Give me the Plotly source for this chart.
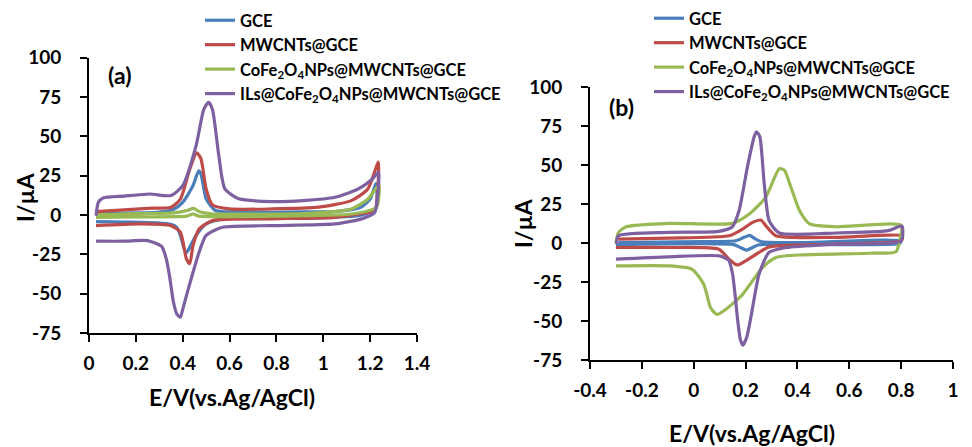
import plotly.graph_objects as go

# ---------------- data: panel (a) ----------------
a_gce_E = [0.03, 0.15, 0.29, 0.36, 0.40, 0.444, 0.468, 0.478, 0.50, 0.54, 0.65, 0.78, 0.92, 1.05, 1.16, 1.20, 1.225,
           1.227, 1.20, 1.15, 0.92, 0.70, 0.57, 0.50, 0.457, 0.435, 0.423, 0.415, 0.405, 0.39, 0.375, 0.35, 0.29,
           0.15, 0.03]
a_gce_I = [0.6, 1.2, 1.7, 3.5, 8, 18.6, 28, 26, 10.2, 2.8, 1.9, 1.7, 1.9, 2.1, 4.9, 10, 20,
           5, 1.8, -0.4, -2.1, -2.3, -2.5, -5.7, -13, -19, -22.5, -24, -21, -13, -8, -6, -5,
           -4.5, -4.2]

a_mw_E = [0.03, 0.15, 0.25, 0.35, 0.39, 0.43, 0.46, 0.478, 0.50, 0.527, 0.60, 0.78, 0.98, 1.12, 1.19, 1.235,
          1.232, 1.22, 1.15, 1.05, 0.78, 0.527, 0.47, 0.444, 0.43, 0.416, 0.39, 0.35, 0.22, 0.03]
a_mw_I = [2.1, 3.2, 4.2, 4.9, 10, 29, 39.5, 35.6, 16.5, 6.4, 3.8, 3.8, 4.9, 9.1, 16.5, 33.5,
          15, 2.8, 0.6, -1.5, -2.5, -3.6, -8.9, -19.5, -31, -28, -11, -6.8, -5.7, -6.8]

a_co_E = [0.03, 0.20, 0.36, 0.42, 0.446, 0.47, 0.527, 0.70, 0.915, 1.12, 1.19, 1.237,
          1.227, 1.12, 0.78, 0.47, 0.444, 0.416, 0.20, 0.03]
a_co_I = [0, 0.8, 1.3, 2.8, 4.2, 2.1, 0.6, 0.6, 0.8, 3.8, 10, 19,
          4.9, 0.6, -0.8, -0.8, 0.6, -0.8, -1.2, -1.5]

a_il_E = [0.03, 0.04, 0.06, 0.15, 0.26, 0.35, 0.40, 0.457, 0.49, 0.51, 0.527, 0.554, 0.58, 0.64, 0.78, 0.915,
          1.05, 1.15, 1.21, 1.236, 1.232, 1.22, 1.164, 1.05, 0.78, 0.57, 0.50, 0.47, 0.42, 0.40, 0.39, 0.375,
          0.36, 0.345, 0.33, 0.31, 0.25, 0.15, 0.03]
a_il_I = [-0.5, 8, 10.8, 12, 13.3, 12.3, 18.6, 44, 67, 71.5, 67, 37.7, 16.5, 10.2, 8.5, 9.1,
          11.2, 16.5, 22.9, 27.1, 12, 1.7, -2.5, -5.7, -6.8, -7.8, -13, -23.7, -49, -60, -65, -63,
          -55, -40, -28, -20, -16.3, -16.7, -16.7]

# ---------------- data: panel (b) ----------------
b_gce_E = [-0.29, 0.03, 0.162, 0.194, 0.216, 0.233, 0.259, 0.42, 0.80,
           0.795, 0.42, 0.252, 0.227, 0.203, 0.18, 0.155, -0.30]
b_gce_I = [0.4, 1, 1.5, 3.7, 5.0, 3.2, 1, 0.4, 1.5,
           -0.2, -0.6, -1, -2.8, -4.5, -2.8, -1, -1]

b_mw_E = [-0.29, -0.097, 0.136, 0.188, 0.227, 0.259, 0.278, 0.317, 0.55, 0.805,
          0.80, 0.55, 0.291, 0.252, 0.20, 0.168, 0.136, 0.097, -0.097, -0.30]
b_mw_I = [2.6, 3.2, 4.7, 9, 13.3, 14.8, 11.2, 4.7, 3.7, 4.7,
          1.5, -0.6, -2.4, -6, -11.4, -14, -10.3, -3.9, -2.8, -2.8]

b_co_E = [-0.30, -0.29, -0.26, -0.097, 0.149, 0.214, 0.278, 0.33, 0.35, 0.375, 0.408, 0.447, 0.55, 0.80,
          0.795, 0.78, 0.68, 0.42, 0.317, 0.265, 0.188, 0.123, 0.09, 0.065, 0.039, -0.006, -0.097, -0.30]
b_co_I = [0, 6.9, 10.5, 12.7, 12.7, 18.7, 29.5, 47.7, 46.7, 35.9, 20.9, 12.3, 10.5, 11.4,
          2, -5.5, -6.5, -7.5, -9.2, -15.7, -33, -42.6, -45.8, -41.5, -26.5, -16.8, -14.6, -14.6]

b_il_E = [-0.298, -0.29, -0.097, 0.097, 0.149, 0.175, 0.207, 0.233, 0.242, 0.255, 0.272, 0.291, 0.33, 0.55,
          0.75, 0.803, 0.80, 0.55, 0.356, 0.29, 0.252, 0.22, 0.205, 0.19, 0.18, 0.17, 0.16, 0.15, 0.135,
          0.10, -0.097, -0.30]
b_il_I = [-0.6, 4.7, 6.9, 7.5, 10.5, 20.9, 48.8, 68.2, 71.4, 68.2, 38, 14.4, 6.5, 6.5,
          8, 11, 1.5, -0.6, -2.8, -6, -20, -48, -60, -65.5, -62, -50, -34, -20, -11,
          -8.2, -8.8, -10.3]

series_names = ["GCE", "MWCNTs@GCE", "CoFe<sub>2</sub>O<sub>4</sub>NPs@MWCNTs@GCE",
                "ILs@CoFe<sub>2</sub>O<sub>4</sub>NPs@MWCNTs@GCE"]
series_colors = ["#4A7EBB", "#BE4B48", "#98B954", "#7D60A0"]

a_x_ticks = [0, 0.2, 0.4, 0.6, 0.8, 1.0, 1.2, 1.4]
a_x_text = ["0", "0.2", "0.4", "0.6", "0.8", "1", "1.2", "1.4"]
b_x_ticks = [-0.4, -0.2, 0, 0.2, 0.4, 0.6, 0.8, 1.0]
b_x_text = ["-0.4", "-0.2", "0", "0.2", "0.4", "0.6", "0.8", "1"]
y_ticks = [-75, -50, -25, 0, 25, 50, 75, 100]
y_text = ["-75", "-50", "-25", "0", "25", "50", "75", "100"]

FONT = "Lato"
W, H = 972, 447

fig = go.Figure()
a_data = [(a_gce_E, a_gce_I), (a_mw_E, a_mw_I), (a_co_E, a_co_I), (a_il_E, a_il_I)]
b_data = [(b_gce_E, b_gce_I), (b_mw_E, b_mw_I), (b_co_E, b_co_I), (b_il_E, b_il_I)]

for (ex, iy), name, col in zip(a_data, series_names, series_colors):
    fig.add_trace(go.Scatter(x=ex, y=iy, mode="lines", name=name, xaxis="x", yaxis="y",
                             line=dict(color=col, width=3.2, shape="spline", smoothing=0.6),
                             legend="legend"))
for (ex, iy), name, col in zip(b_data, series_names, series_colors):
    fig.add_trace(go.Scatter(x=ex, y=iy, mode="lines", name=name, xaxis="x2", yaxis="y2",
                             line=dict(color=col, width=3.2, shape="spline", smoothing=0.6),
                             legend="legend2"))

def px_x(p):
    return p / W

def px_y(p):
    return 1 - p / H

tickfont = dict(family=FONT, size=19, color="black", weight="bold")
axis_common = dict(showgrid=False, zeroline=False, showline=True, linecolor="black", linewidth=2,
                   ticks="outside", ticklen=7, tickwidth=2, tickcolor="black", tickfont=tickfont,
                   automargin=False)

legend_font = dict(family=FONT, size=16.5, color="black", weight="bold")
fig.update_layout(
    width=W, height=H, margin=dict(l=0, r=0, t=0, b=0, autoexpand=False),
    paper_bgcolor="white", plot_bgcolor="white",
    xaxis=dict(domain=[px_x(89), px_x(417)], range=[0, 1.4], tickvals=a_x_ticks, ticktext=a_x_text,
               anchor="y", ticklabelstandoff=5, **axis_common),
    yaxis=dict(domain=[px_y(333), px_y(57.5)], range=[-75, 100], tickvals=y_ticks, ticktext=y_text,
               anchor="x", ticklabelstandoff=15, **axis_common),
    xaxis2=dict(domain=[px_x(590), px_x(953)], range=[-0.4, 1.0], tickvals=b_x_ticks, ticktext=b_x_text,
                anchor="y2", ticklabelstandoff=5, **axis_common),
    yaxis2=dict(domain=[px_y(360), px_y(87.3)], range=[-75, 100], tickvals=y_ticks, ticktext=y_text,
                anchor="x2", ticklabelstandoff=15, **axis_common),
    legend=dict(x=px_x(200), y=px_y(3), xanchor="left", yanchor="top", bgcolor="rgba(0,0,0,0)",
                font=legend_font, itemwidth=30, tracegroupgap=0),
    legend2=dict(x=px_x(649), y=px_y(1), xanchor="left", yanchor="top", bgcolor="rgba(0,0,0,0)",
                 font=legend_font, itemwidth=30, tracegroupgap=0),
    showlegend=True,
)

title_font = dict(family=FONT, size=23, color="black", weight="bold")
label_font = dict(family=FONT, size=23, color="black", weight="bold")
annots = [
    dict(text="E/V(vs.Ag/AgCl)", x=px_x(232), y=px_y(397), font=title_font),
    dict(text="E/V(vs.Ag/AgCl)", x=px_x(752), y=px_y(433), font=title_font),
    dict(text="I/µA", x=px_x(25), y=px_y(197), font=title_font, textangle=-90),
    dict(text="I/µA", x=px_x(523), y=px_y(223), font=title_font, textangle=-90),
    dict(text="(a)", x=px_x(119), y=px_y(75), font=label_font),
    dict(text="(b)", x=px_x(621), y=px_y(107), font=label_font),
]
for a in annots:
    fig.add_annotation(xref="paper", yref="paper", showarrow=False, xanchor="center", yanchor="middle", **a)

fig.write_html("out.html")
